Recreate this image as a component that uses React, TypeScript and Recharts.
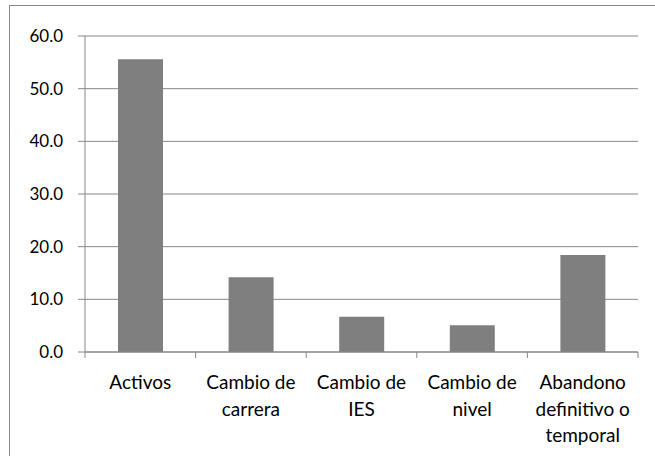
import React from 'react';
import { BarChart, Bar, XAxis, YAxis, CartesianGrid } from 'recharts';

const categorias = ['Activos', 'Cambio de carrera', 'Cambio de IES', 'Cambio de nivel', 'Abandono definitivo o temporal'];
const etiquetas = [['Activos'], ['Cambio de', 'carrera'], ['Cambio de', 'IES'], ['Cambio de', 'nivel'], ['Abandono', 'definitivo o', 'temporal']];
const porcentajes = [55.6, 14.2, 6.7, 5.1, 18.4];
const yTicks = [0, 10, 20, 30, 40, 50, 60];

const FONT = 'Lato, "Open Sans", sans-serif';
const GRIS = '#878787';
const ANCHO = 655;
const ALTO = 456;
const MARGEN = { top: 36, right: 17, left: 0, bottom: 0 };
const EJE_Y = 85;
// ancho de cada categoría, para poner las marcas entre barras como en Excel
const BANDA = (ANCHO - MARGEN.right - MARGEN.left - EJE_Y) / categorias.length;

const EtiquetaX = (props: any) => {
  const { x, y, index } = props;
  const lineas = etiquetas[index] || [];
  const izq = x - BANDA / 2;
  const der = x + BANDA / 2;
  return (
    <g>
      <line x1={izq} x2={izq} y1={y} y2={y + 6} stroke={GRIS} />
      {index === categorias.length - 1 && <line x1={der} x2={der} y1={y} y2={y + 6} stroke={GRIS} />}
      <text x={x} y={y} textAnchor="middle" fill="#000" fontFamily={FONT} fontSize={19}>
        {lineas.map((l, i) => (
          <tspan key={i} x={x} y={y + 37 + i * 26.5}>
            {l}
          </tspan>
        ))}
      </text>
    </g>
  );
};

export default function App() {
  // armar datos para el gráfico
  const data = categorias.map((c, i) => ({ nombre: c, valor: porcentajes[i] }));

  return (
    <div style={{ position: 'absolute', left: 0, top: 0, width: ANCHO, height: ALTO, background: '#fff' }}>
      <div
        style={{
          position: 'absolute',
          left: 9,
          top: 5,
          width: ANCHO - 9,
          height: ALTO - 5,
          borderLeft: `1px solid ${GRIS}`,
          borderTop: `1px solid ${GRIS}`,
        }}
      />
      <BarChart
        width={ANCHO}
        height={ALTO}
        data={data}
        margin={MARGEN}
        barCategoryGap="30%"
        style={{ position: 'absolute', left: 0, top: 0 }}
      >
        <CartesianGrid vertical={false} stroke={GRIS} strokeWidth={1} />
        <XAxis
          dataKey="nombre"
          interval={0}
          height={104}
          axisLine={{ stroke: GRIS }}
          tickLine={false}
          tickSize={0}
          tickMargin={0}
          tick={<EtiquetaX />}
        />
        <YAxis
          width={EJE_Y}
          domain={[0, 60]}
          ticks={yTicks}
          tickFormatter={(v: number) => v.toFixed(1)}
          tickSize={7}
          tickMargin={15}
          axisLine={{ stroke: GRIS }}
          tickLine={{ stroke: GRIS }}
          tick={{ fill: '#000', fontFamily: FONT, fontSize: 17 }}
        />
        <Bar dataKey="valor" fill="#7f7f7f" barSize={45} isAnimationActive={false} />
      </BarChart>
    </div>
  );
}
